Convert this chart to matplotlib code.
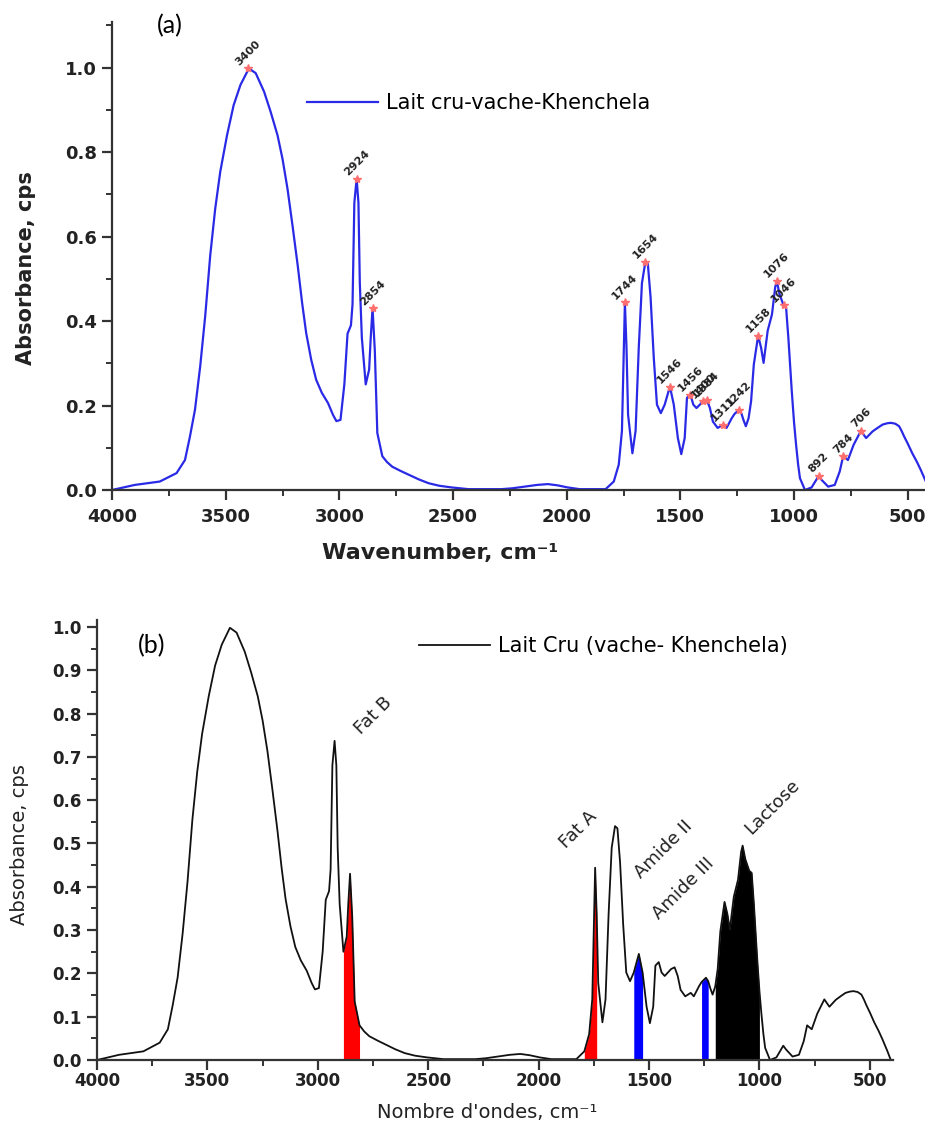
import numpy as np
import matplotlib
matplotlib.use("Agg")
import matplotlib.pyplot as plt
from matplotlib.ticker import MultipleLocator, FormatStrFormatter

# spectrum (wavenumber cm-1, absorbance)
wavenumber = np.array([
    4000, 3900, 3790, 3716, 3679, 3657, 3635, 3612, 3590, 3568, 3546, 3524,
    3494, 3465, 3435, 3398, 3368, 3331, 3302, 3272, 3250, 3228, 3206, 3183,
    3164, 3146, 3124, 3102, 3077, 3050, 3028, 3013, 2995, 2978, 2964,
    2949, 2942, 2934, 2924, 2916, 2910, 2901, 2884, 2869, 2862, 2854, 2844,
    2833, 2811, 2790, 2767, 2730, 2694, 2650, 2607, 2560, 2505, 2432, 2350,
    2287, 2240, 2185, 2130, 2083, 2040, 1995, 1943,
    1829, 1793, 1771, 1757, 1750, 1744, 1737, 1730, 1711, 1697, 1683, 1669,
    1654, 1643, 1631, 1617, 1603, 1586, 1569, 1546, 1529, 1511, 1496, 1481,
    1471, 1456, 1443, 1429, 1400, 1384, 1370, 1357, 1336, 1311, 1297, 1274,
    1262, 1242, 1232, 1222, 1212, 1200, 1189, 1177, 1158, 1145, 1134, 1116,
    1097, 1083, 1076, 1064, 1046, 1035, 1025, 1010, 1000, 991, 982, 974, 952,
    923, 892, 879, 850, 821, 799, 784, 763, 738, 706, 683, 654, 630, 610, 590,
    574, 555, 538, 527, 516, 500, 480, 460, 443, 420, 405])
absorbance = np.array([
    0.0, 0.012, 0.02, 0.04, 0.071, 0.127, 0.19, 0.293, 0.412, 0.555, 0.666, 0.753,
    0.84, 0.911, 0.959, 0.998, 0.987, 0.943, 0.895, 0.84, 0.784, 0.713, 0.626, 0.531,
    0.444, 0.372, 0.309, 0.261, 0.23, 0.206, 0.178, 0.163, 0.166, 0.25, 0.37,
    0.39, 0.44, 0.68, 0.737, 0.68, 0.49, 0.36, 0.25, 0.285, 0.36, 0.43, 0.33,
    0.135, 0.08, 0.066, 0.055, 0.045, 0.036, 0.025, 0.016, 0.01, 0.006, 0.002, 0.002,
    0.002, 0.004, 0.008, 0.012, 0.014, 0.011, 0.006, 0.002,
    0.002, 0.02, 0.06, 0.14, 0.30, 0.444, 0.337, 0.178, 0.087, 0.14, 0.337, 0.49,
    0.54, 0.535, 0.456, 0.313, 0.202, 0.182, 0.202, 0.245, 0.202, 0.123, 0.085, 0.123,
    0.218, 0.226, 0.202, 0.194, 0.21, 0.214, 0.194, 0.162, 0.147, 0.155, 0.147, 0.170,
    0.18, 0.19, 0.182, 0.165, 0.151, 0.17, 0.21, 0.297, 0.365, 0.337, 0.301, 0.377,
    0.416, 0.48, 0.495, 0.464, 0.437, 0.432, 0.36, 0.234, 0.16, 0.107, 0.06, 0.028, 0.0,
    0.006, 0.033, 0.024, 0.008, 0.012, 0.044, 0.08, 0.071, 0.107, 0.14, 0.123, 0.139, 0.148, 0.155, 0.158,
    0.159, 0.157, 0.151, 0.14, 0.127, 0.11, 0.087, 0.067, 0.048, 0.02, 0.0])

# labelled peaks of panel (a)
peak_wn = [3400, 2924, 2854, 1744, 1654, 1546, 1456, 1400, 1384, 1311,
           1242, 1158, 1076, 1046, 892, 784, 706]
peak_abs = [0.998, 0.737, 0.43, 0.444, 0.54, 0.245, 0.226, 0.21, 0.214, 0.155,
            0.19, 0.365, 0.495, 0.437, 0.033, 0.08, 0.14]

# shaded bands of panel (b): name, low, high, colour
band_names = ["Fat B", "Fat A", "Amide II", "Amide III", "Lactose"]
band_lo = [2800, 1735, 1520, 1230, 1000]
band_hi = [2900, 1800, 1570, 1265, 1200]
band_colors = ["#ff0000", "#ff0000", "#0000ff", "#0000ff", "#000000"]
band_text_wn = [2750, 1822, 1432, 1346, 943]
band_text_abs = [0.794, 0.531, 0.487, 0.397, 0.584]

W, H = 925, 1128


def fx(x):
    return x / W


def fy(y):
    return 1 - y / H


def style_axis(ax, xpad, size):
    for side in ["top", "right"]:
        ax.spines[side].set_visible(False)
    for side in ["left", "bottom"]:
        ax.spines[side].set_linewidth(1.6)
        ax.spines[side].set_color("#333333")
    ax.tick_params(which="major", direction="out", length=7, width=1.6,
                   color="#333333", labelsize=size, pad=4)
    ax.tick_params(which="minor", direction="out", length=4, width=1.4,
                   color="#333333")
    ax.tick_params(axis="x", which="major", pad=xpad)
    for lab in ax.get_xticklabels() + ax.get_yticklabels():
        lab.set_fontweight("bold")
        lab.set_color("#222222")


fig = plt.figure(figsize=(W / 100, H / 100), dpi=100)

# ---- panel (a) ----
ax1 = fig.add_axes([fx(112), fy(490), fx(925) - fx(112), fy(22) - fy(490)])
ax1.plot(wavenumber, absorbance, color="#2a2ae6", lw=1.6,
         label="Lait cru-vache-Khenchela")
ax1.plot(peak_wn, peak_abs, ls="none", marker="*", ms=6, color="#ff6f6f")
for w, a in zip(peak_wn, peak_abs):
    ax1.text(w, a + 0.003, str(w), rotation=45, ha="center", va="bottom",
             fontsize=8, fontweight="bold", color="#222222")
ax1.set_xlim(4000, 424)
ax1.set_ylim(0, 1.108)
ax1.xaxis.set_major_locator(MultipleLocator(500))
ax1.xaxis.set_minor_locator(MultipleLocator(250))
ax1.yaxis.set_major_locator(MultipleLocator(0.2))
ax1.yaxis.set_minor_locator(MultipleLocator(0.1))
ax1.yaxis.set_major_formatter(FormatStrFormatter("%.1f"))
style_axis(ax1, 6, 13)
ax1.legend(loc="center left", bbox_to_anchor=(fx(307), fy(103)),
           bbox_transform=fig.transFigure, frameon=False, fontsize=15,
           handlelength=3.4, handletextpad=0.4, borderpad=0, borderaxespad=0)
fig.text(fx(26), fy(268), "Absorbance, cps", rotation=90, ha="center",
         va="center", fontsize=15, fontweight="bold", color="#222222")
fig.text(fx(440), fy(553), "Wavenumber, cm⁻¹", ha="center",
         va="center", fontsize=16, fontweight="bold", color="#222222")
fig.text(fx(170), fy(26), "(a)", ha="center", va="center", fontsize=18,
         family="Lato")

# ---- panel (b) ----
ax2 = fig.add_axes([fx(97), fy(1060), fx(893) - fx(97), fy(620) - fy(1060)])
ax2.plot(wavenumber, absorbance, color="#111111", lw=1.3,
         label="Lait Cru (vache- Khenchela)")
for lo, hi, c in zip(band_lo, band_hi, band_colors):
    sel = (wavenumber >= lo) & (wavenumber <= hi)
    ax2.fill_between(wavenumber[sel], absorbance[sel], 0, color=c, lw=0)
for name, w, a in zip(band_names, band_text_wn, band_text_abs):
    ax2.text(w, a, name, rotation=45, ha="center", va="center", fontsize=13,
             color="#222222")
ax2.set_xlim(4000, 395)
ax2.set_ylim(0, 1.016)
ax2.xaxis.set_major_locator(MultipleLocator(500))
ax2.xaxis.set_minor_locator(MultipleLocator(250))
ax2.yaxis.set_major_locator(MultipleLocator(0.1))
ax2.yaxis.set_minor_locator(MultipleLocator(0.05))
ax2.yaxis.set_major_formatter(FormatStrFormatter("%.1f"))
style_axis(ax2, 2, 12)
ax2.legend(loc="center left", bbox_to_anchor=(fx(419), fy(646)),
           bbox_transform=fig.transFigure, frameon=False, fontsize=15,
           handlelength=3.4, handletextpad=0.4, borderpad=0, borderaxespad=0)
fig.text(fx(20), fy(845), "Absorbance, cps", rotation=90, ha="center",
         va="center", fontsize=14, color="#222222")
fig.text(fx(487), fy(1113), "Nombre d'ondes, cm⁻¹", ha="center",
         va="center", fontsize=14, color="#222222")
fig.text(fx(152), fy(646), "(b)", ha="center", va="center", fontsize=18,
         family="Lato")

fig.savefig("out.png", dpi=100)
